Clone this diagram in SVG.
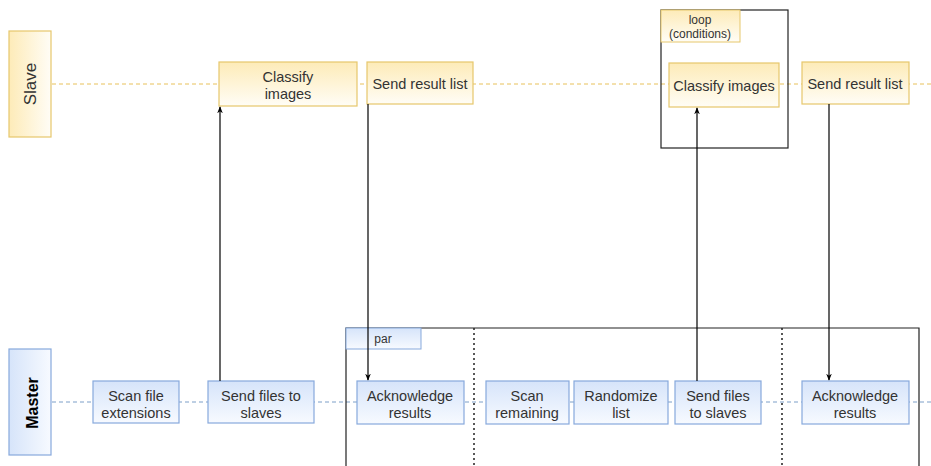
<svg xmlns="http://www.w3.org/2000/svg" width="931" height="466" viewBox="0 0 931 466">
  <defs>
    <linearGradient id="slaveV" x1="0" y1="0" x2="0" y2="1">
      <stop offset="0" stop-color="#fdebb8"/>
      <stop offset="1" stop-color="#fffdf6"/>
    </linearGradient>
    <linearGradient id="slaveH" x1="0" y1="0" x2="1" y2="0">
      <stop offset="0" stop-color="#fdebb8"/>
      <stop offset="1" stop-color="#fffdf6"/>
    </linearGradient>
    <linearGradient id="masterV" x1="0" y1="0" x2="0" y2="1">
      <stop offset="0" stop-color="#d6e4fa"/>
      <stop offset="1" stop-color="#f7faff"/>
    </linearGradient>
    <linearGradient id="masterH" x1="0" y1="0" x2="1" y2="0">
      <stop offset="0" stop-color="#d6e4fa"/>
      <stop offset="1" stop-color="#f7faff"/>
    </linearGradient>
    <marker id="arrow" viewBox="0 0 10 10" refX="9" refY="5" markerWidth="7" markerHeight="7" orient="auto-start-reverse" markerUnits="userSpaceOnUse">
      <path d="M0,1 L10,5 L0,9 L3,5 Z" fill="#000"/>
    </marker>
    <style>
      text { font-family: "Liberation Sans", Arial, sans-serif; font-size: 14.5px; fill: #333; text-anchor: middle; }
      .slave { fill: url(#slaveV); stroke: #e6c76c; stroke-width: 1.2; }
      .master { fill: url(#masterV); stroke: #87a9dc; stroke-width: 1.2; }
      .lifeS { stroke: #e8c15a; stroke-width: 1; stroke-dasharray: 4 3; fill: none; }
      .lifeM { stroke: #7d9fc8; stroke-width: 1; stroke-dasharray: 4 3; fill: none; }
      .frame { fill: none; stroke: #222; stroke-width: 1.2; }
      .sep { stroke: #222; stroke-width: 1.5; stroke-dasharray: 2 3; }
      .msg { stroke: #000; stroke-width: 1.2; fill: none; marker-end: url(#arrow); }
      .small { font-size: 12px; }
    </style>
  </defs>

  <!-- lifelines -->
  <g id="lifelines">
    <line class="lifeS" x1="52" y1="84" x2="931" y2="84"/>
    <line class="lifeM" x1="52" y1="402" x2="931" y2="402"/>
  </g>

  <!-- lanes -->
  <g id="lane-slave">
    <rect x="9" y="31" width="42" height="106" fill="url(#slaveH)" stroke="#e6c76c" stroke-width="1.2"/>
    <text transform="translate(36,84) rotate(-90)" style="font-size:17px">Slave</text>
  </g>
  <g id="lane-master">
    <rect x="9" y="349" width="42" height="106" fill="url(#masterH)" stroke="#87a9dc" stroke-width="1.2"/>
    <text transform="translate(38,403) rotate(-90)" style="font-size:16px;font-weight:bold;fill:#000">Master</text>
  </g>

  <!-- combined fragments -->
  <g id="frame-loop">
    <rect class="frame" x="661" y="10" width="127" height="138"/>
    <rect x="661" y="10" width="79" height="32" fill="url(#slaveV)" stroke="#e6c76c" stroke-width="1"/>
    <text class="small" x="700" y="24">loop</text>
    <text class="small" x="700" y="38">(conditions)</text>
  </g>
  <g id="frame-par">
    <path class="frame" d="M346,466 V328 H919 V466"/>
    <rect x="346" y="328" width="75" height="21" fill="url(#masterV)" stroke="#87a9dc" stroke-width="1"/>
    <text class="small" x="383" y="343">par</text>
    <line class="sep" x1="474" y1="328" x2="474" y2="466"/>
    <line class="sep" x1="782" y1="328" x2="782" y2="466"/>
  </g>

  <!-- slave activities -->
  <g id="classify-1">
    <rect class="slave" x="219" y="62" width="138" height="44"/>
    <text x="288" y="82">Classify</text>
    <text x="288" y="99">images</text>
  </g>
  <g id="send-result-1">
    <rect class="slave" x="367" y="62" width="106" height="42"/>
    <text x="420" y="89">Send result list</text>
  </g>
  <g id="classify-2">
    <rect class="slave" x="669" y="63" width="110" height="44"/>
    <text x="724" y="91">Classify images</text>
  </g>
  <g id="send-result-2">
    <rect class="slave" x="802" y="62" width="107" height="42"/>
    <text x="855" y="89">Send result list</text>
  </g>

  <!-- master activities -->
  <g id="scan-ext">
    <rect class="master" x="93" y="381" width="86" height="42"/>
    <text x="136" y="401">Scan file</text>
    <text x="136" y="418">extensions</text>
  </g>
  <g id="send-files-1">
    <rect class="master" x="208" y="381" width="106" height="42"/>
    <text x="261" y="401">Send files to</text>
    <text x="261" y="418">slaves</text>
  </g>
  <g id="ack-1">
    <rect class="master" x="357" y="381" width="107" height="43"/>
    <text x="410" y="401">Acknowledge</text>
    <text x="410" y="418">results</text>
  </g>
  <g id="scan-remaining">
    <rect class="master" x="486" y="381" width="83" height="43"/>
    <text x="527" y="401">Scan</text>
    <text x="527" y="418">remaining</text>
  </g>
  <g id="randomize">
    <rect class="master" x="574" y="381" width="94" height="43"/>
    <text x="621" y="401">Randomize</text>
    <text x="621" y="418">list</text>
  </g>
  <g id="send-files-2">
    <rect class="master" x="675" y="381" width="86" height="43"/>
    <text x="718" y="401">Send files</text>
    <text x="718" y="418">to slaves</text>
  </g>
  <g id="ack-2">
    <rect class="master" x="802" y="381" width="107" height="43"/>
    <text x="855" y="401">Acknowledge</text>
    <text x="855" y="418">results</text>
  </g>

  <!-- messages -->
  <g id="connectors">
    <line class="msg" x1="220" y1="381" x2="220" y2="107"/>
    <line class="msg" x1="368" y1="104" x2="368" y2="380"/>
    <line class="msg" x1="697" y1="381" x2="697" y2="108"/>
    <line class="msg" x1="829" y1="104" x2="829" y2="380"/>
  </g>
</svg>
